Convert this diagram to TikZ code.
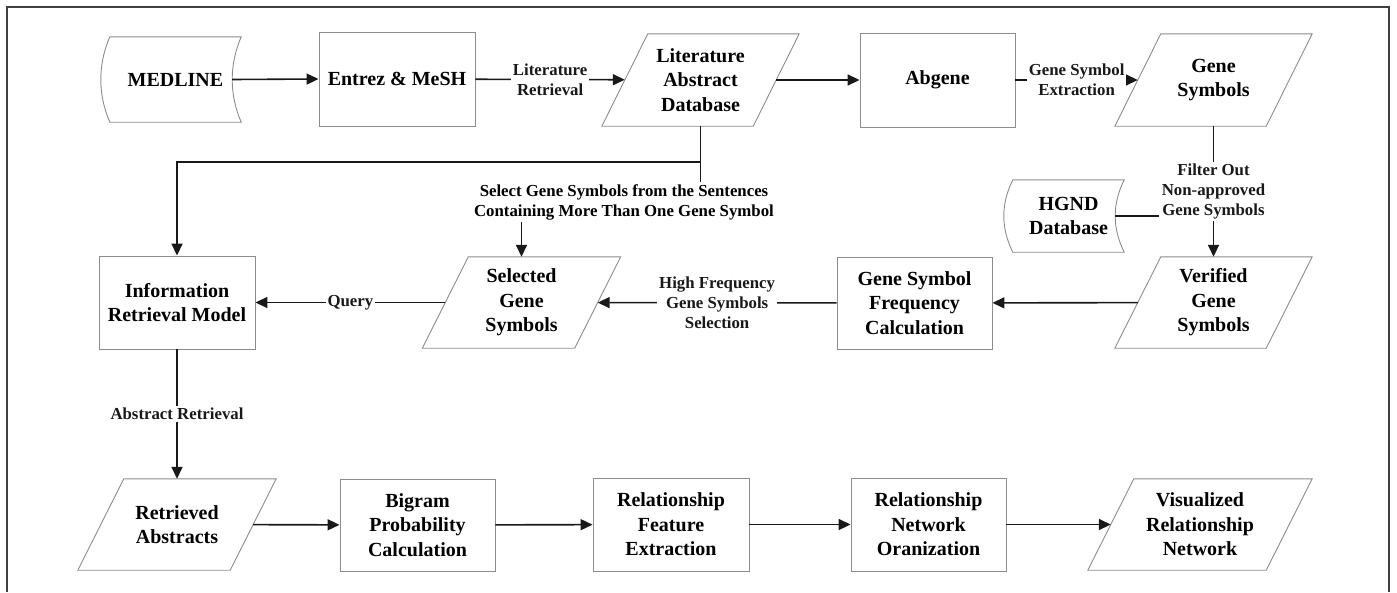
\documentclass[tikz,border=0pt]{standalone}
\usepackage{fontspec}
\setmainfont{Liberation Serif}
\usetikzlibrary{arrows.meta,calc,positioning}
\newcommand{\paraoutline}[1]{\draw[outline] ([xshift=23pt]#1.north west) -- ([xshift=23pt]#1.north east) -- ([xshift=-23pt]#1.south east) -- ([xshift=-23pt]#1.south west) -- cycle;}
\newcommand{\storedoutline}[3]{\draw[outline] (#1.north west) .. controls +(-#2,#3) and +(-#2,-#3) .. (#1.south west) -- (#1.south east) .. controls +(-#2,-#3) and +(-#2,#3) .. (#1.north east) -- cycle;}
\tikzset{
  box/.style={
    inner sep=0pt,
    minimum width=155,
    minimum height=93,
    align=center,
    font=\fontsize{20}{24.5}\selectfont\bfseries},
  outline/.style={draw=black!45, line width=0.9pt},
  flow/.style={
    -{Triangle[length=12pt,width=11pt]},
    line width=1.6pt,
    black!90},
  lab/.style={
    fill=white,
    inner sep=2pt,
    align=center,
    font=\fontsize{16.8}{20}\selectfont\bfseries}
  }

\begin{document}
\begin{tikzpicture}[x=1pt,y=-1pt]
    \useasboundingbox (0,0) rectangle (1397,592);
    \draw[line width=1.8pt, black!75] (7,592) -- (7,7) -- (1389,7) -- (1389,592);
    % top row
    \node[box, minimum width=131, minimum height=85] (med) at (175.5,79.5) {MEDLINE};
    \node[box, outline, minimum width=156, minimum height=94] (ent) at (397,79) {Entrez \& MeSH};
    \node[box, minimum width=151, minimum height=92] (lit) at (700.5,80) {Literature\\Abstract\\Database};
    \node[box, outline, minimum height=94] (abg) at (937.5,80) {Abgene};
    \node[box, minimum width=151, minimum height=92] (gs) at (1213.5,80) {Gene\\Symbols};
    % middle row
    \node[box, minimum width=111, minimum height=72] (hgnd) at (1068.5,216) {HGND\\Database};
    \node[box, outline, minimum width=156] (irm) at (177,302.5) {Information\\Retrieval Model};
    \node[box, minimum width=152, minimum height=91] (sel) at (521.5,302.5) {Selected\\Gene\\Symbols};
    \node[box, outline, minimum height=92] (freq) at (914.5,303) {Gene Symbol\\Frequency\\Calculation};
    \node[box, minimum width=151, minimum height=91] (ver) at (1213.5,302.5) {Verified\\Gene\\Symbols};
    % bottom row
    \node[box, minimum width=152, minimum height=91] (ret) at (177,524.5) {Retrieved\\Abstracts};
    \node[box, outline, minimum height=92] (big) at (417.5,525) {Bigram\\Probability\\Calculation};
    \node[box, outline, minimum width=156] (rfe) at (671,524.5) {Relationship\\Feature\\Extraction};
    \node[box, outline] (rno) at (928.5,524.5) {Relationship\\Network\\Oranization};
    \node[box, minimum width=178, minimum height=91] (vis) at (1200,524.5) {Visualized\\Relationship\\Network};
    \storedoutline{med}{12}{28}
    \storedoutline{hgnd}{12}{24}
    \paraoutline{lit}
    \paraoutline{gs}
    \paraoutline{sel}
    \paraoutline{ver}
    \paraoutline{ret}
    \paraoutline{vis}
    \node[lab] (sellab) at (624,202) {Select Gene Symbols from the Sentences\\Containing More Than One Gene Symbol};
    \coordinate (jn) at (700.5,162);
    \draw[flow] ([xshift=-9pt]med.east) -- (ent.west);
    \draw[flow] (ent) -- node[lab]{Literature\\Retrieval} (lit);
    \draw[flow] (lit) -- (abg);
    \draw[flow] (abg) -- node[lab]{Gene Symbol\\Extraction} (gs);
    \draw[flow] (gs) -- node[lab] (filt) {Filter Out\\Non-approved\\Gene Symbols} (ver);
    \draw[line width=1.6pt, black!90] ([xshift=-9pt]hgnd.east) -- (hgnd.east -| filt.west);
    \draw[flow] (ver) -- (freq);
    \draw[flow] (freq) -- node[lab]{High Frequency\\Gene Symbols\\Selection} (sel);
    \draw[flow] (sel) -- node[lab]{Query} (irm);
    \draw[flow] (lit.south) -- (jn) -| (irm.north);
    \draw[line width=1.6pt, black!90] (jn) -- (jn |- sellab.north);
    \draw[flow] (sellab.south -| sel.north) -- (sel.north);
    \draw[flow] (irm) -- node[lab]{Abstract Retrieval} (ret);
    \draw[flow] (ret) -- (big);
    \draw[flow] (big) -- (rfe);
    \draw[flow] (rfe) -- (rno);
    \draw[flow] (rno) -- (vis);
\end{tikzpicture}
\end{document}
